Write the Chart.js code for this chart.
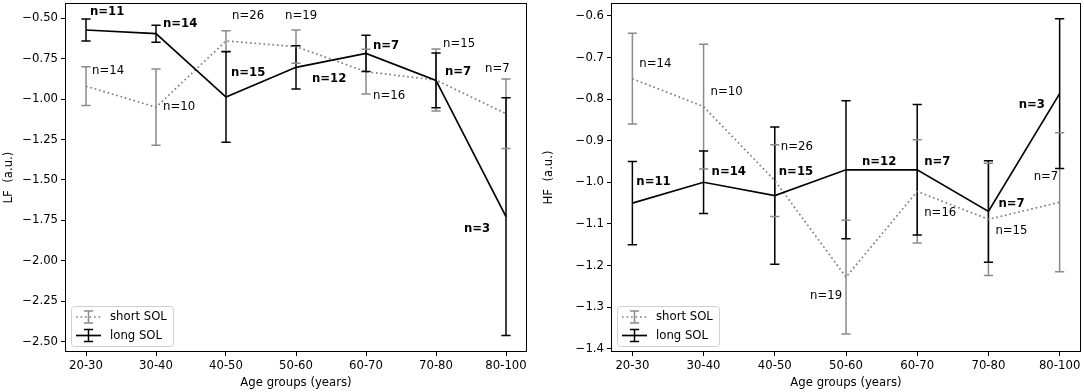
<!DOCTYPE html>
<html>
<head>
<meta charset="utf-8">
<script src="https://cdn.jsdelivr.net/npm/chart.js@4/dist/chart.umd.min.js"></script>
<style>
  body { margin: 0; background: #fff; }
  .panel { position: absolute; top: 0; height: 392px; }
  #lfBox { left: 0; width: 540px; }
  #hfBox { left: 540px; width: 544px; }
</style>
</head>
<body>
<div class="panel" id="lfBox"><canvas id="lfChart" width="540" height="392"></canvas></div>
<div class="panel" id="hfBox"><canvas id="hfChart" width="544" height="392"></canvas></div>
<script>
// Categories
const ageGroups = ['20-30', '30-40', '40-50', '50-60', '60-70', '70-80', '80-100']

// LF panel
const lfShortMean = [-0.92, -1.05, -0.64, -0.675, -0.83, -0.882, -1.09]
const lfShortErr = [0.12, 0.236, 0.064, 0.103, 0.138, 0.192, 0.215]
const lfLongMean = [-0.572, -0.595, -0.987, -0.803, -0.717, -0.884, -1.727]
const lfLongErr = [0.068, 0.053, 0.28, 0.134, 0.112, 0.17, 0.736]
const lfShortN = [14, 10, 26, 19, 16, 15, 7]
const lfLongN = [11, 14, 15, 12, 7, 7, 3]
const lfTicks = [-2.5, -2.25, -2.0, -1.75, -1.5, -1.25, -1.0, -0.75, -0.5]

// HF panel
const hfShortMean = [-0.751, -0.818, -0.996, -1.228, -1.022, -1.089, -1.048]
const hfShortErr = [0.109, 0.15, 0.086, 0.137, 0.124, 0.135, 0.167]
const hfLongMean = [-1.05, -1.0, -1.032, -0.97, -0.97, -1.07, -0.787]
const hfLongErr = [0.1, 0.075, 0.165, 0.166, 0.157, 0.122, 0.18]
const hfShortN = [14, 10, 26, 19, 16, 15, 7]
const hfLongN = [11, 14, 15, 12, 7, 7, 3]
const hfTicks = [-1.4, -1.3, -1.2, -1.1, -1.0, -0.9, -0.8, -0.7, -0.6]

// where the "n=" labels sit, in pixels from each point (text left edge, middle)
const lfShortLabelOff = [[6, -15], [7, 0], [6, -25], [-11, -31], [7, 24], [7, -36], [-21, -45]]
const lfLongLabelOff = [[4, -18], [7, -10], [5, -24], [16, 12], [7, -7], [9, -8], [-42, 12]]
const hfShortLabelOff = [[7, -15], [7, -15], [6, -34], [-36, 19], [7, 22], [7, 12], [-26, -25]]
const hfLongLabelOff = [[4, -21], [8, -10], [4, -24], [16, -8], [7, -8], [10, -7], [-41, 11]]

const FONT = { family: 'DejaVu Sans', size: 11.7 }
const CAP = 4.6
Chart.defaults.color = '#000'

const toPoints = vals => vals.map((v, i) => ({ x: i, y: v }))

function errorPath(ctx, x, yTop, yBot, caps) {
  ctx.beginPath()
  if (caps) {
    ctx.moveTo(x - CAP, yTop); ctx.lineTo(x + CAP, yTop)
    ctx.moveTo(x - CAP, yBot); ctx.lineTo(x + CAP, yBot)
  } else {
    ctx.moveTo(x, yTop); ctx.lineTo(x, yBot)
  }
  ctx.stroke()
}

function drawErrors(chart, caps) {
  const { ctx, scales } = chart
  ctx.save()
  chart.data.datasets.forEach(ds => {
    ctx.strokeStyle = ds.barColor
    ctx.lineWidth = 1.5
    ds.data.forEach((p, i) => {
      const x = scales.x.getPixelForValue(p.x)
      const yTop = scales.y.getPixelForValue(p.y + ds.errors[i])
      const yBot = scales.y.getPixelForValue(p.y - ds.errors[i])
      errorPath(ctx, x, yTop, yBot, caps)
    })
  })
  ctx.restore()
}

function drawCounts(chart) {
  const { ctx, scales } = chart
  ctx.save()
  ctx.textAlign = 'left'
  ctx.textBaseline = 'middle'
  ctx.fillStyle = '#000'
  chart.data.datasets.forEach(ds => {
    ctx.font = (ds.bold ? 'bold ' : '') + FONT.size + 'px "' + FONT.family + '"'
    ds.data.forEach((p, i) => {
      const x = scales.x.getPixelForValue(p.x) + ds.labelOff[i][0]
      const y = scales.y.getPixelForValue(p.y) + ds.labelOff[i][1]
      ctx.fillText('n=' + ds.counts[i], x, y)
    })
  })
  ctx.restore()
}

function drawLegend(chart) {
  const { ctx, chartArea } = chart
  const w = 102, h = 40
  const x = chartArea.left + 6, y = chartArea.bottom - 6 - h
  ctx.save()
  ctx.beginPath()
  ctx.roundRect(x + 0.5, y + 0.5, w, h, 3)
  ctx.fillStyle = 'rgba(255,255,255,0.8)'
  ctx.fill()
  ctx.strokeStyle = '#d0d0d0'
  ctx.lineWidth = 1
  ctx.stroke()
  chart.data.datasets.forEach((ds, i) => {
    const cy = y + 11 + i * 18.5
    ctx.strokeStyle = ds.borderColor
    ctx.lineWidth = 1.7
    ctx.setLineDash(ds.borderDash || [])
    ctx.beginPath(); ctx.moveTo(x + 5, cy); ctx.lineTo(x + 30, cy); ctx.stroke()
    ctx.setLineDash([])
    ctx.strokeStyle = ds.barColor
    ctx.lineWidth = 1.5
    errorPath(ctx, x + 17.5, cy - 6, cy + 6, false)
    errorPath(ctx, x + 17.5, cy - 6, cy + 6, true)
    ctx.fillStyle = '#000'
    ctx.font = FONT.size + 'px "' + FONT.family + '"'
    ctx.textBaseline = 'middle'
    ctx.fillText(ds.label, x + 39, cy)
  })
  ctx.restore()
}

const errorBarPlugin = {
  id: 'errorBars',
  beforeDatasetsDraw(chart) { drawErrors(chart, false) },
  afterDatasetsDraw(chart) {
    drawErrors(chart, true)
    drawCounts(chart)
    const { ctx, chartArea: a } = chart
    ctx.save()
    ctx.strokeStyle = '#000'
    ctx.lineWidth = 1
    ctx.strokeRect(Math.round(a.left) + 0.5, Math.round(a.top) + 0.5,
      Math.round(a.right - a.left) - 1, Math.round(a.bottom - a.top) - 1)
    ctx.restore()
    drawLegend(chart)
  }
}

function buildChart(canvasId, cfg) {
  return new Chart(document.getElementById(canvasId), {
    type: 'line',
    data: {
      datasets: [
        {
          label: 'short SOL',
          data: toPoints(cfg.shortMean),
          errors: cfg.shortErr,
          counts: cfg.shortN,
          labelOff: cfg.shortOff,
          borderColor: 'gray',
          barColor: '#8a8a8a',
          borderWidth: 1.7,
          borderDash: [1.7, 2.8],
          pointRadius: 0,
          order: 1
        },
        {
          label: 'long SOL',
          data: toPoints(cfg.longMean),
          errors: cfg.longErr,
          counts: cfg.longN,
          labelOff: cfg.longOff,
          bold: true,
          borderColor: '#000',
          barColor: '#000',
          borderWidth: 1.7,
          pointRadius: 0,
          order: 0
        }
      ]
    },
    options: {
      responsive: false,
      animation: false,
      layout: { padding: { top: 3, right: cfg.padRight, left: 0, bottom: 0 } },
      plugins: { legend: { display: false }, tooltip: { enabled: false } },
      scales: {
        x: {
          type: 'linear',
          min: -0.3,
          max: 6.3,
          afterBuildTicks: s => { s.ticks = ageGroups.map((g, i) => ({ value: i })) },
          afterFit: s => { s.height = 40; s.paddingLeft = 0; s.paddingRight = 0 },
          ticks: { callback: v => ageGroups[v], font: FONT, padding: 3, maxRotation: 0, autoSkip: false },
          grid: { drawOnChartArea: false, tickLength: 4, tickColor: '#000' },
          border: { display: false },
          title: { display: true, text: 'Age groups (years)', font: FONT, padding: { top: 0, bottom: 2 } }
        },
        y: {
          type: 'linear',
          min: cfg.yMin,
          max: cfg.yMax,
          afterBuildTicks: s => { s.ticks = cfg.ticks.map(v => ({ value: v })) },
          afterFit: s => { s.width = cfg.yWidth; s.paddingTop = 0; s.paddingBottom = 0 },
          ticks: { callback: v => v.toFixed(cfg.decimals).replace('-', '\u2212'), font: FONT, padding: 3 },
          grid: { drawOnChartArea: false, tickLength: 4, tickColor: '#000' },
          border: { display: false },
          title: { display: true, text: cfg.yTitle, font: FONT, padding: { top: 2, bottom: 0 } }
        }
      }
    },
    plugins: [errorBarPlugin]
  })
}

buildChart('lfChart', {
  shortMean: lfShortMean, shortErr: lfShortErr, shortN: lfShortN, shortOff: lfShortLabelOff,
  longMean: lfLongMean, longErr: lfLongErr, longN: lfLongN, longOff: lfLongLabelOff,
  ticks: lfTicks, yMin: -2.565, yMax: -0.405, decimals: 2,
  yTitle: 'LF  (a.u.)', yWidth: 65, padRight: 13
})

buildChart('hfChart', {
  shortMean: hfShortMean, shortErr: hfShortErr, shortN: hfShortN, shortOff: hfShortLabelOff,
  longMean: hfLongMean, longErr: hfLongErr, longN: hfLongN, longOff: hfLongLabelOff,
  ticks: hfTicks, yMin: -1.408, yMax: -0.569, decimals: 1,
  yTitle: 'HF  (a.u.)', yWidth: 71, padRight: 3
})
</script>
</body>
</html>
